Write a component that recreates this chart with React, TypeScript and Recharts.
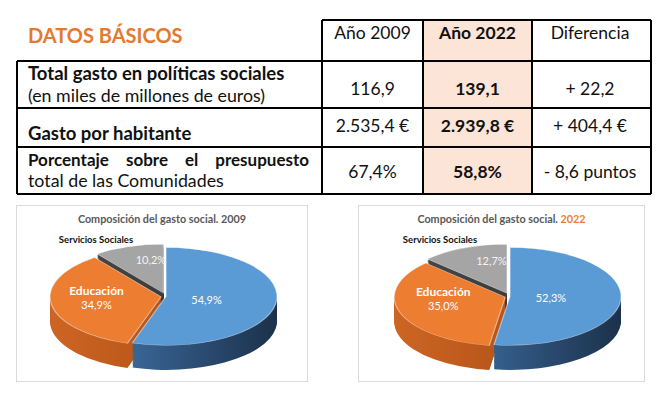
import React from 'react';
import { PieChart, Pie, Cell } from 'recharts';

const FONT = 'Lato, "Open Sans", sans-serif';

// ---------- table data ----------
const tableTitle = 'DATOS BÁSICOS';
const columnHeaders = ['Año 2009', 'Año 2022', 'Diferencia'];
const rowTitles = ['Total gasto en políticas sociales', 'Gasto por habitante', 'Porcentaje sobre el presupuesto'];
const rowSubtitles = ['(en miles de millones de euros)', '', 'total de las Comunidades'];
const values2009Row = ['116,9', '2.535,4 €', '67,4%'];
const values2022Row = ['139,1', '2.939,8 €', '58,8%'];
const differenceRow = ['+ 22,2', '+ 404,4 €', '- 8,6 puntos'];

// ---------- pie data ----------
const pieCategories = ['Sanidad', 'Educación', 'Servicios Sociales'];
const share2009 = [54.9, 34.9, 10.2];
const share2022 = [52.3, 35.0, 12.7];
const pieTitlePrefix = 'Composición del gasto social. ';
const pieYears = ['2009', '2022'];

// ---------- styles ----------
const TOP_COLORS = ['#5B9BD5', '#ED7D31', '#A5A5A5'];
const SIDE_STOPS = [
  ['#4A7DB3', '#3A6797', '#2A4B70', '#1C314B'],
  ['#CC6423', '#BD5A1C', '#AC5119', '#9A4815'],
  ['#4A4A4A', '#404040', '#383838', '#303030'],
];
const S = 0.44; // vertical tilt
const R = 111;
const DEPTH = 56;
const LAYERS = 20;
const SVG_W = 300;
const SVG_H = 320;
const CX = 150;
const CY = 135;
const EXPLODE = [0, 5, 8];
const LABEL_FX = [0.37, 0.59, 0.36];
const LABEL_FY = [0.37, 0.07, 0.72];

const colX = [17, 322, 423, 532, 651];
const rowY = [20, 61, 108, 147, 194];
const valueBaselines = [95, 132, 178];
const colCenters = [372.5, 477.5, 590];

const fmtPct = (v: number) => v.toFixed(1).replace('.', ',') + '%';

function DataTable() {
  const stroke = '#000';
  return (
    <svg width={669} height={200} style={{ position: 'absolute', left: 0, top: 0 }} fontFamily={FONT}>
      <rect x={colX[2]} y={rowY[0]} width={colX[3] - colX[2]} height={rowY[4] - rowY[0]} fill="#FCE4D6" />
      <text x={28} y={43} fontSize={20} fontWeight={700} fill="#E27A2F">{tableTitle}</text>
      <line x1={colX[1]} x2={colX[4]} y1={rowY[0]} y2={rowY[0]} stroke={stroke} strokeWidth={2} />
      {rowY.slice(1).map((y, i) => (
        <line key={'h' + i} x1={colX[0]} x2={colX[4]} y1={y} y2={y} stroke={stroke} strokeWidth={2} />
      ))}
      <line x1={colX[0]} x2={colX[0]} y1={rowY[1]} y2={rowY[4]} stroke={stroke} strokeWidth={2} />
      {colX.slice(1).map((x, i) => (
        <line key={'v' + i} x1={x} x2={x} y1={rowY[0]} y2={rowY[4]} stroke={stroke} strokeWidth={2} />
      ))}
      {columnHeaders.map((h, i) => (
        <text key={'ch' + i} x={colCenters[i]} y={39} textAnchor="middle" fontSize={17.5} fontWeight={i === 1 ? 700 : 400} fill="#111">{h}</text>
      ))}
      <text x={28} y={80} fontSize={18.5} fontWeight={700} fill="#111">{rowTitles[0]}</text>
      <text x={28} y={102} fontSize={17.8} fill="#111">{rowSubtitles[0]}</text>
      <text x={28} y={140} fontSize={18.5} fontWeight={700} fill="#111">{rowTitles[1]}</text>
      <text x={28} y={187} fontSize={17.8} fill="#111">{rowSubtitles[2]}</text>
      {valueBaselines.map((y, r) => (
        <g key={'r' + r}>
          <text x={colCenters[0]} y={y} textAnchor="middle" fontSize={17.5} fill="#111">{values2009Row[r]}</text>
          <text x={colCenters[1]} y={y} textAnchor="middle" fontSize={17.5} fontWeight={700} fill="#111">{values2022Row[r]}</text>
          <text x={colCenters[2]} y={y} textAnchor="middle" fontSize={17.5} fill="#111">{differenceRow[r]}</text>
        </g>
      ))}
    </svg>
  );
}

function JustifiedLine() {
  const fs = 17;
  return (
    <div
      style={{
        position: 'absolute', left: 28, width: 281, top: 167 - 0.987 * fs,
        display: 'flex', justifyContent: 'space-between',
        fontFamily: FONT, fontSize: fs, fontWeight: 700, lineHeight: 1.2, color: '#111', whiteSpace: 'nowrap',
      }}
    >
      {rowTitles[2].split(' ').map((w, i) => <span key={i}>{w}</span>)}
    </div>
  );
}

type PieProps = {
  values: number[];
  yearIndex: number;
  boxX: number;
  boxW: number;
  centerX: number;
  centerY: number;
};

function Pie3DChart({ values, yearIndex, boxX, boxW, centerX, centerY }: PieProps) {
  const id = 'p' + pieYears[yearIndex];
  const data = pieCategories.map((name, i) => ({ name, value: values[i] }));
  const total = values.reduce((a, b) => a + b, 0);
  let cum = 0;
  const offsets = values.map((v, i) => {
    const theta = ((cum + v / 2) / total) * 2 * Math.PI;
    cum += v;
    const d = EXPLODE[i];
    return { dx: d * Math.sin(theta), dy: -d * Math.cos(theta) };
  });

  const renderLabel = (s: number) => (p: any) => {
    if (p.index !== s) return null;
    const rad = (p.midAngle * Math.PI) / 180;
    const x = p.cx + R * LABEL_FX[s] * Math.cos(rad);
    const y = p.cy - R * LABEL_FY[s] * Math.sin(rad);
    const pct = fmtPct(Number(p.value));
    return (
      <g transform={`translate(${x},${y}) scale(1,${1 / S})`} fontFamily={FONT}>
        {s === 1 ? (
          <>
            <text x={0} y={-6.5} textAnchor="middle" dominantBaseline="central" fill="#fff" fontWeight={700} fontSize={12}>{p.name}</text>
            <text x={0} y={7.5} textAnchor="middle" dominantBaseline="central" fill="#fff" fontSize={11}>{pct}</text>
          </>
        ) : (
          <text x={0} y={0} textAnchor="middle" dominantBaseline="central" fill={s === 2 ? '#F4F4F4' : '#fff'} fontSize={11}>{pct}</text>
        )}
      </g>
    );
  };

  const pies: React.ReactNode[] = [];
  for (let k = LAYERS; k >= 1; k--) {
    const dz = (k * DEPTH) / LAYERS;
    data.forEach((_, s) => {
      pies.push(
        <Pie
          key={`side-${k}-${s}`}
          data={data}
          dataKey="value"
          nameKey="name"
          cx={CX + offsets[s].dx}
          cy={CY + offsets[s].dy + dz}
          outerRadius={R}
          startAngle={90}
          endAngle={-270}
          isAnimationActive={false}
          stroke="none"
          label={false}
          labelLine={false}
        >
          {data.map((d, i) => (
            <Cell key={i} fill={i === s ? `url(#${id}-side-${s})` : 'none'} stroke="none" />
          ))}
        </Pie>
      );
    });
  }
  data.forEach((_, s) => {
    pies.push(
      <Pie
        key={`top-${s}`}
        data={data}
        dataKey="value"
        nameKey="name"
        cx={CX + offsets[s].dx}
        cy={CY + offsets[s].dy}
        outerRadius={R}
        startAngle={90}
        endAngle={-270}
        isAnimationActive={false}
        label={renderLabel(s)}
        labelLine={false}
      >
        {data.map((d, i) => (
          <Cell
            key={i}
            fill={i === s ? TOP_COLORS[s] : 'none'}
            stroke={i === s ? 'rgba(255,255,255,0.5)' : 'none'}
            strokeWidth={1.2}
          />
        ))}
      </Pie>
    );
  });

  return (
    <>
      <div
        style={{
          position: 'absolute', left: boxX, top: 205, width: boxW, height: 177,
          border: '1px solid #D9D9D9', boxSizing: 'border-box', background: '#fff',
        }}
      />
      <div
        style={{
          position: 'absolute', left: boxX, width: boxW, top: 212, textAlign: 'center',
          fontFamily: FONT, fontSize: 10.8, fontWeight: 700, color: '#595959', lineHeight: '14px', whiteSpace: 'nowrap',
        }}
      >
        {pieTitlePrefix}
        <span style={{ color: yearIndex === 1 ? '#ED7D31' : '#595959' }}>{pieYears[yearIndex]}</span>
      </div>
      <div
        style={{
          position: 'absolute', left: centerX - CX, top: centerY - CY * S, width: SVG_W, height: SVG_H,
          transform: `scaleY(${S})`, transformOrigin: '0 0',
        }}
      >
        <PieChart width={SVG_W} height={SVG_H} margin={{ top: 0, right: 0, bottom: 0, left: 0 }}>
          <defs>
            {SIDE_STOPS.map((stops, s) => (
              <linearGradient key={s} id={`${id}-side-${s}`} gradientUnits="userSpaceOnUse" x1={CX - R} x2={CX + R} y1={0} y2={0}>
                {stops.map((c, j) => (
                  <stop key={j} offset={j / (stops.length - 1)} stopColor={c} />
                ))}
              </linearGradient>
            ))}
          </defs>
          {pies}
        </PieChart>
      </div>
      <div
        style={{
          position: 'absolute', left: centerX - 70, top: centerY - 56, transform: 'translate(-50%, -50%)',
          fontFamily: FONT, fontSize: 9.5, fontWeight: 700, color: '#111', whiteSpace: 'nowrap', lineHeight: '12px',
        }}
      >
        {pieCategories[2]}
      </div>
    </>
  );
}

export default function App() {
  return (
    <div style={{ position: 'absolute', left: 0, top: 0, width: 669, height: 393, background: '#fff', overflow: 'hidden', fontFamily: FONT }}>
      <DataTable />
      <JustifiedLine />
      <Pie3DChart values={share2009} yearIndex={0} boxX={16} boxW={292} centerX={166} centerY={296} />
      <Pie3DChart values={share2022} yearIndex={1} boxX={358} boxW={287} centerX={510} centerY={296} />
    </div>
  );
}
